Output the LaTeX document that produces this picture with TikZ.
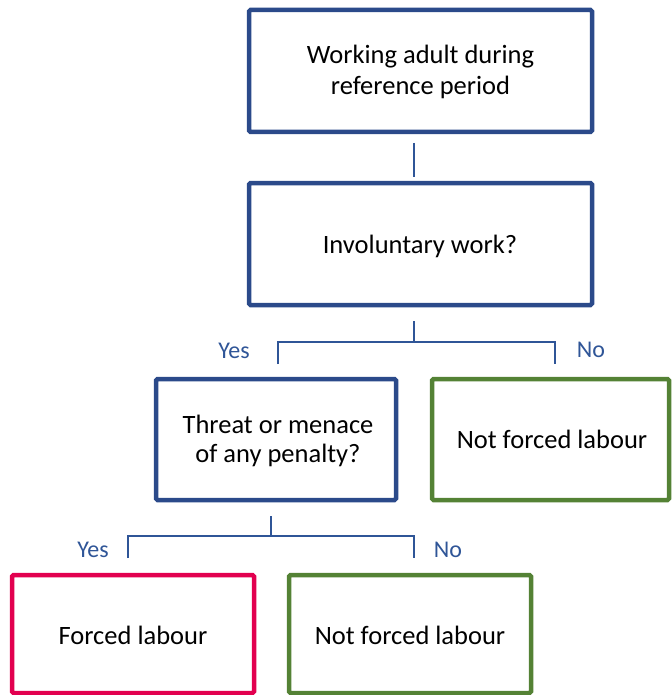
\documentclass[tikz,border=0pt]{standalone}
\usepackage{fontspec}
\setmainfont{Carlito}
\definecolor{boxblue}{HTML}{2B4A8A}
\definecolor{lineblue}{HTML}{2F5597}
\definecolor{boxgreen}{HTML}{548235}
\definecolor{boxred}{HTML}{E2004F}
\begin{document}
\begin{tikzpicture}[x=1pt,y=-1pt,
  box/.style={draw=#1, line width=4.5pt, rounded corners=1.5pt, inner sep=0pt},
  txt/.style={anchor=base, inner sep=0pt, text=black, font=\fontsize{26.5}{32}\selectfont},
  conn/.style={draw=lineblue, line width=1.3pt},
  lab/.style={text=lineblue, font=\fontsize{24}{28}\selectfont, inner sep=0pt}]
\useasboundingbox (0,0) rectangle (671,695);
% boxes
\node[box=boxblue, minimum width=343pt, minimum height=122pt] (b1) at (420.5,71) {};
\node[box=boxblue, minimum width=343pt, minimum height=122pt] (b2) at (420.5,244) {};
\node[box=boxblue, minimum width=240pt, minimum height=121pt] (b3) at (276,439.5) {};
\node[box=boxgreen, minimum width=237pt, minimum height=121pt] (b4) at (550.5,439.5) {};
\node[box=boxred, minimum width=242pt, minimum height=118pt] (b5) at (133,634) {};
\node[box=boxgreen, minimum width=242pt, minimum height=118pt] (b6) at (410,634) {};
% texts
\node[txt] (t1a) at (420.5,63.3) {Working adult during};
\node[txt] (t1b) at (420.5,94.8) {reference period};
\node[txt] (t2) at (420,253) {Involuntary work?};
\node[txt] (t3a) at (278,433.3) {Threat or menace};
\node[txt] (t3b) at (278,462) {of any penalty?};
\node[txt] (t4) at (552,448.3) {Not forced labour};
\node[txt] (t5) at (133,644.3) {Forced labour};
\node[txt] (t6) at (410,644.3) {Not forced labour};
% connector 1
\coordinate (c1a) at (414,143);
\coordinate (c1b) at (414,177);
\draw[conn] (c1a) -- (c1b);
% connector 2
\coordinate (c2a) at (414,321);
\coordinate (c2b) at (414,342);
\coordinate (c2l) at (278,342);
\coordinate (c2r) at (555,342);
\coordinate (c2ld) at (278,364);
\coordinate (c2rd) at (555,364);
\draw[conn] (c2a) -- (c2b);
\draw[conn] (c2ld) -- (c2l) -- (c2r) -- (c2rd);
\node[lab] (y1) at (234,351) {Yes};
\node[lab] (n1) at (591,349.5) {No};
% connector 3
\coordinate (c3a) at (271,516);
\coordinate (c3b) at (271,536);
\coordinate (c3l) at (128,536);
\coordinate (c3r) at (414,536);
\coordinate (c3ld) at (128,558);
\coordinate (c3rd) at (414,558);
\draw[conn] (c3a) -- (c3b);
\draw[conn] (c3ld) -- (c3l) -- (c3r) -- (c3rd);
\node[lab] (y2) at (93,549.5) {Yes};
\node[lab] (n2) at (448,549.5) {No};
\end{tikzpicture}
\end{document}
